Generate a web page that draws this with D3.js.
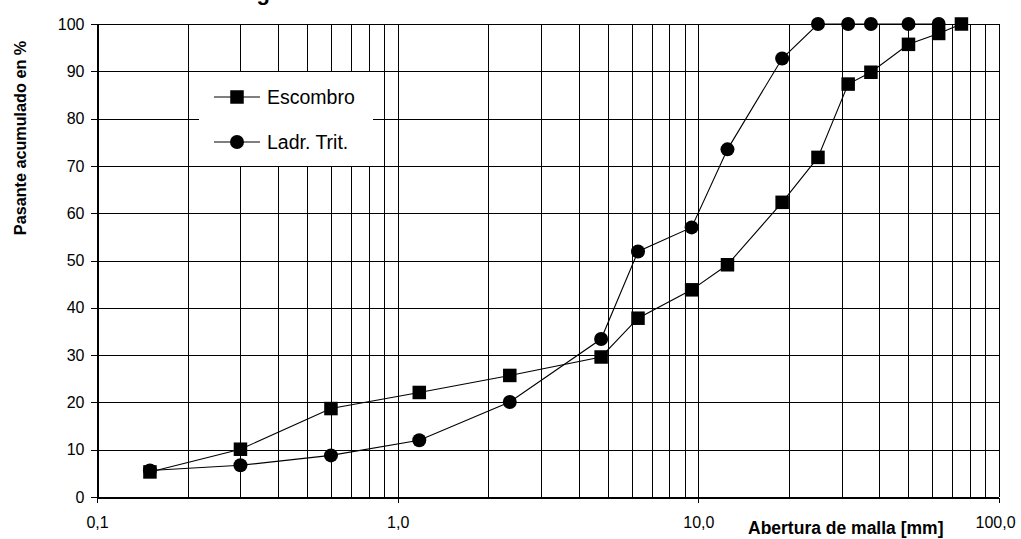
<!DOCTYPE html>
<html>
<head>
<meta charset="utf-8">
<script src="https://cdn.jsdelivr.net/npm/d3@7"></script>
<style>
  html, body { margin: 0; padding: 0; background: #ffffff; }
  svg { display: block; }
  text { font-family: Arial, "Liberation Sans", sans-serif; fill: #000; }
</style>
</head>
<body>
<svg id="chart" width="1021" height="539"></svg>
<script>
// Sieve openings (mm)
const sievesEscombro = [0.15, 0.3, 0.6, 1.18, 2.36, 4.75, 6.3, 9.5, 12.5, 19, 25, 31.5, 37.5, 50, 63, 75];
const passEscombro   = [5.3, 10.1, 18.7, 22.1, 25.7, 29.6, 37.8, 43.8, 49.1, 62.3, 71.8, 87.3, 89.8, 95.7, 98.0, 100];

const sievesLadrillo = [0.15, 0.3, 0.6, 1.18, 2.36, 4.75, 6.3, 9.5, 12.5, 19, 25, 31.5, 37.5, 50, 63];
const passLadrillo   = [5.6, 6.7, 8.8, 12.0, 20.1, 33.4, 51.9, 57.0, 73.5, 92.7, 100, 100, 100, 100, 100];

const seriesNames = ["Escombro", "Ladr. Trit."];
const xTickValues = [0.1, 1, 10, 100];
const yTickValues = [0, 10, 20, 30, 40, 50, 60, 70, 80, 90, 100];

const svg = d3.select("#chart");
const plotLeft = 97, plotRight = 999, plotTop = 24, plotBottom = 497;

const x = d3.scaleLog().domain([0.1, 100]).range([plotLeft, plotRight]);
const y = d3.scaleLinear().domain([0, 100]).range([plotBottom, plotTop]);

const locale = d3.formatLocale({ decimal: ",", thousands: ".", grouping: [3], currency: ["", ""] });
const fmtX = locale.format(".1f");

// Title (runs off the top edge)
svg.append("text")
  .attr("x", 188).attr("y", -0.5)
  .attr("font-size", 22).attr("font-weight", "bold")
  .text("Curva granulométrica");

// Vertical grid: every minor log step
const grid = svg.append("g").attr("stroke", "#000").attr("stroke-width", 1).attr("shape-rendering", "crispEdges");
grid.selectAll("line.v")
  .data(x.ticks())
  .join("line")
  .attr("x1", d => Math.round(x(d)) + 0.5).attr("x2", d => Math.round(x(d)) + 0.5)
  .attr("y1", plotTop).attr("y2", plotBottom);

// Horizontal grid
grid.selectAll("line.h")
  .data(yTickValues)
  .join("line")
  .attr("x1", plotLeft).attr("x2", plotRight)
  .attr("y1", d => Math.round(y(d)) + 0.5).attr("y2", d => Math.round(y(d)) + 0.5);

// Axes
const yAxis = svg.append("g")
  .attr("transform", `translate(${plotLeft + 0.5},0)`)
  .call(d3.axisLeft(y).tickValues(yTickValues).tickSize(7).tickPadding(6).tickFormat(d3.format("d")));
yAxis.selectAll("text").attr("font-size", 16).attr("font-family", "Arial, 'Liberation Sans', sans-serif").attr("fill", "#000");
yAxis.selectAll("line, path").attr("stroke", "#000").attr("shape-rendering", "crispEdges");

const xAxis = svg.append("g")
  .attr("transform", `translate(0,${plotBottom + 0.5})`)
  .call(d3.axisBottom(x).tickValues(xTickValues).tickSize(5).tickPadding(14).tickFormat(fmtX).tickSizeOuter(0));
xAxis.selectAll("text").attr("font-size", 16).attr("font-family", "Arial, 'Liberation Sans', sans-serif").attr("fill", "#000");
xAxis.selectAll("line, path").attr("stroke", "#000").attr("shape-rendering", "crispEdges");
xAxis.selectAll(".tick").filter(d => d === 100).select("text").attr("dx", -4);

// Right border
svg.append("line")
  .attr("x1", plotRight + 0.5).attr("x2", plotRight + 0.5).attr("y1", plotTop).attr("y2", plotBottom)
  .attr("stroke", "#000").attr("shape-rendering", "crispEdges");

// Axis titles
svg.append("text")
  .attr("x", 748).attr("y", 534)
  .attr("font-size", 17.5).attr("font-weight", "bold")
  .text("Abertura de malla [mm]");

svg.append("text")
  .attr("transform", "translate(26,138) rotate(-90)")
  .attr("text-anchor", "middle")
  .attr("font-size", 16.2).attr("font-weight", "bold")
  .text("Pasante acumulado en %");

// Legend
const legend = svg.append("g");
legend.append("rect")
  .attr("x", 199).attr("y", 72).attr("width", 174).attr("height", 94)
  .attr("fill", "#fff");

const line = d3.line().x(d => x(d[0])).y(d => y(d[1]));
const squareSize = 13.5, circleR = 7;

function drawSquare(g, cx, cy) {
  g.append("rect")
    .attr("x", cx - squareSize / 2).attr("y", cy - squareSize / 2)
    .attr("width", squareSize).attr("height", squareSize)
    .attr("fill", "#000");
}
function drawCircle(g, cx, cy) {
  g.append("circle").attr("cx", cx).attr("cy", cy).attr("r", circleR).attr("fill", "#000");
}

const legendRows = [
  { name: seriesNames[0], cy: 97, mark: drawSquare },
  { name: seriesNames[1], cy: 142, mark: drawCircle }
];
legendRows.forEach(r => {
  legend.append("line")
    .attr("x1", 214).attr("x2", 260).attr("y1", r.cy).attr("y2", r.cy)
    .attr("stroke", "#000").attr("stroke-width", 1.2);
  r.mark(legend, 237, r.cy);
  legend.append("text")
    .attr("x", 267).attr("y", r.cy).attr("dy", "0.36em")
    .attr("font-size", 19.5)
    .text(r.name);
});

// Series lines and markers
const escData = sievesEscombro.map((s, i) => [s, passEscombro[i]]);
const ladData = sievesLadrillo.map((s, i) => [s, passLadrillo[i]]);

const plot = svg.append("g");
plot.append("path").datum(escData)
  .attr("d", line).attr("fill", "none").attr("stroke", "#000").attr("stroke-width", 1.1);
plot.append("path").datum(ladData)
  .attr("d", line).attr("fill", "none").attr("stroke", "#000").attr("stroke-width", 1.1);

plot.append("g").selectAll("rect")
  .data(escData)
  .join("rect")
  .attr("x", d => x(d[0]) - squareSize / 2).attr("y", d => y(d[1]) - squareSize / 2)
  .attr("width", squareSize).attr("height", squareSize)
  .attr("fill", "#000");

plot.append("g").selectAll("circle")
  .data(ladData)
  .join("circle")
  .attr("cx", d => x(d[0])).attr("cy", d => y(d[1])).attr("r", circleR)
  .attr("fill", "#000");
</script>
</body>
</html>
